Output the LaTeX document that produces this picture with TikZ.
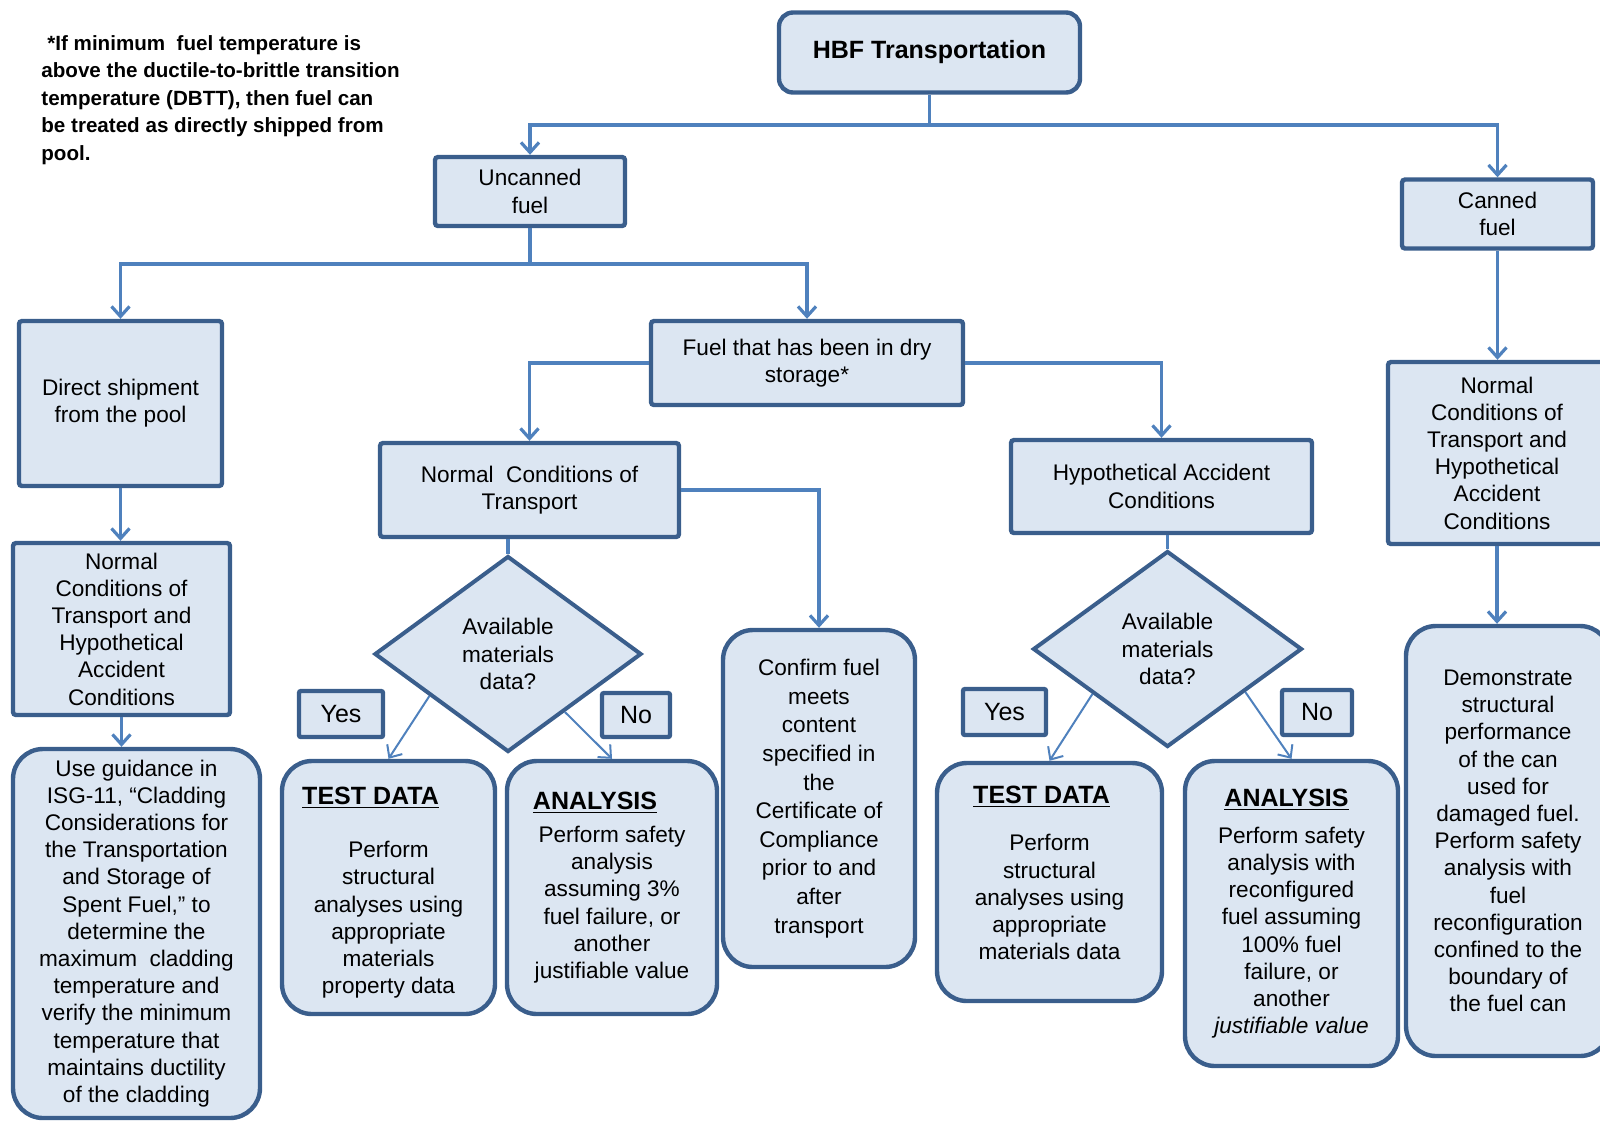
\documentclass[tikz,border=0pt]{standalone}
\usepackage{fontspec}
\setmainfont{Liberation Sans}
\usetikzlibrary{shapes.geometric,arrows.meta,calc}
\definecolor{boxfill}{RGB}{220,230,242}
\definecolor{boxline}{RGB}{58,94,140}
\definecolor{connc}{RGB}{79,129,189}
\begin{document}
\begin{tikzpicture}[x=0.5pt,y=-0.5pt,
  sz/.style 2 args={minimum width=#1*0.5pt, minimum height=#2*0.5pt},
  base/.style={draw=boxline, fill=boxfill, line width=2.2pt, inner sep=0pt, align=center, font=\fontsize{11.3}{13.6}\selectfont},
  rbox/.style={base, rectangle, rounded corners=1.5pt},
  ubox/.style={base, rectangle, rounded corners=15pt},
  dbox/.style={base, diamond, line width=2pt},
  lbl/.style={base, rectangle, rounded corners=1pt, font=\fontsize{12.5}{14}\selectfont},
  link/.style={draw=connc, line width=1.6pt, -{Straight Barb[length=5pt,width=9pt]}},
  plain/.style={draw=connc, line width=1.6pt},
  thinlink/.style={draw=connc, line width=1pt, -{Straight Barb[length=5pt,width=9pt]}},
]
\useasboundingbox (0,0) rectangle (1600,1121);
\clip (0,0) rectangle (1600,1121);

% footnote
\node[font=\fontsize{10.3}{13.75}\selectfont\bfseries, align=left, anchor=west, inner sep=0pt] (note) at (41,100)
 {\hspace*{3pt}*If minimum\ \ fuel temperature is\\above the ductile-to-brittle transition\\temperature (DBTT), then fuel can\\be treated as directly shipped from\\pool.};

\node[base, rectangle, rounded corners=7pt, sz={301}{80}, font=\fontsize{12.5}{15}\selectfont\bfseries] (hbf) at (929.5,52.5) {HBF Transportation};

\node[rbox, sz={190}{69}] (unc) at (530,191.5) {Uncanned\\fuel};
\node[rbox, sz={191}{69}] (can) at (1497.5,214) {Canned\\fuel};
\node[rbox, sz={203}{165}] (dir) at (120.5,403.5) {Direct shipment\\from the pool};
\node[rbox, sz={312}{84}] (dry) at (807,363) {Fuel that has been in dry\\storage*};
\node[rbox, sz={299}{94}] (nct) at (529.5,490) {Normal\ \ Conditions of\\Transport};
\node[rbox, sz={301}{93}] (hac) at (1161.5,486.5) {Hypothetical Accident\\Conditions};
\node[rbox, sz={218}{182}] (nhr) at (1497,453) {Normal\\Conditions of\\Transport and\\Hypothetical\\Accident\\Conditions};
\node[rbox, sz={217}{172}] (nhl) at (121.5,629) {Normal\\Conditions of\\Transport and\\Hypothetical\\Accident\\Conditions};

\node[ubox, sz={247}{369}] (use) at (136.5,933.5) {Use guidance in\\ISG-11, “Cladding\\Considerations for\\the Transportation\\and Storage of\\Spent Fuel,” to\\determine the\\maximum\ \ cladding\\temperature and\\verify the minimum\\temperature that\\maintains ductility\\of the cladding};

\node[dbox, sz={267}{196}] (d1) at (508,654) {Available\\materials\\data?};
\node[dbox, sz={269}{196}] (d2) at (1167.5,649) {Available\\materials\\data?};

\node[lbl, sz={84}{46}] (yes1) at (341,714) {Yes};
\node[lbl, sz={68}{44}] (no1) at (636,715) {No};
\node[lbl, sz={83}{46}] (yes2) at (1004.5,712) {Yes};
\node[lbl, sz={70}{45}] (no2) at (1317,712.5) {No};

\node[ubox, sz={213}{253}] (td1) at (388.5,887.5) {\hspace*{-18pt}{\fontsize{12.5}{15}\selectfont\bfseries\underline{TEST DATA}}\rule{0pt}{14pt}\\[13pt]Perform\\structural\\analyses using\\appropriate\\materials\\property data};
\node[ubox, sz={210}{253}] (an1) at (612,887.5) {\hspace*{-17pt}{\fontsize{12.5}{15}\selectfont\bfseries\underline{ANALYSIS}}\\[3pt]Perform safety\\analysis\\assuming 3\%\\fuel failure, or\\another\\justifiable value};
\node[ubox, sz={192}{337}, font=\fontsize{11.3}{14.3}\selectfont] (conf) at (819,798.5) {Confirm fuel\\meets\\content\\specified in\\the\\Certificate of\\Compliance\\prior to and\\after\\transport};
\node[ubox, sz={225}{238}] (td2) at (1049.5,882) {\hspace*{-8pt}{\fontsize{12.5}{15}\selectfont\bfseries\underline{TEST DATA}}\\[10pt]Perform\\structural\\analyses using\\appropriate\\materials data\rule[-9pt]{0pt}{9pt}};
\node[ubox, sz={213}{305}] (an2) at (1291.5,913.5) {\hspace*{-5pt}{\fontsize{12.5}{15}\selectfont\bfseries\underline{ANALYSIS}}\\[5pt]Perform safety\\analysis with\\reconfigured\\fuel assuming\\100\% fuel\\failure, or\\another\\\textit{justifiable value}};
\node[ubox, sz={204}{430}] (dem) at (1508,841) {Demonstrate\\structural\\performance\\of the can\\used for\\damaged fuel.\\Perform safety\\analysis with\\fuel\\reconfiguration\\confined to the\\boundary of\\the fuel can};

% connectors
\coordinate (j1) at (929.5,125);
\draw[plain] (hbf.south) -- (j1);
\draw[link] (j1) -| (unc.north);
\draw[link] (j1) -| (can.north);
\coordinate (j2) at (530,264);
\draw[plain] (unc.south) -- (j2);
\draw[link] (j2) -| (dir.north);
\draw[link] (j2) -| (dry.north);
\draw[link] (dry.west) -| (nct.north);
\draw[link] (dry.east) -| (hac.north);
\draw[link] (dir.south) -- (dir.south |- nhl.north);
\draw[link] (nhl.south) -- (nhl.south |- use.north);
\draw[plain] (d1.north) -- (d1.north |- nct.south);
\draw[link] (nct.east) -| (conf.north);
\draw[plain] (d2.north) -- (d2.north |- hac.south);
\draw[link] (can.south) -- (can.south |- nhr.north);
\draw[link] (nhr.south) -- (nhr.south |- dem.north);
\draw[thinlink] ($(d1.west)!0.42!(d1.south)$) -- (td1.north);
\draw[thinlink] ($(d1.east)!0.58!(d1.south)$) -- (an1.north);
\draw[thinlink] ($(d2.west)!0.45!(d2.south)$) -- (td2.north);
\draw[thinlink] ($(d2.east)!0.43!(d2.south)$) -- (an2.north);
\end{tikzpicture}
\end{document}
